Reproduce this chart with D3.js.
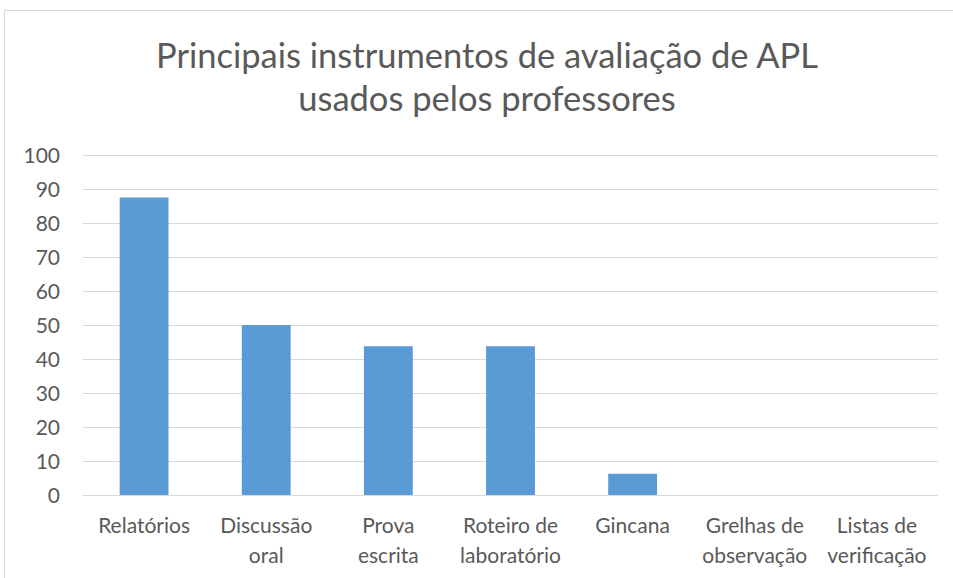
<!DOCTYPE html>
<html><head><meta charset="utf-8">
<script src="https://cdn.jsdelivr.net/npm/d3@7"></script>
<style>body{margin:0;background:#fff}svg{display:block}</style>
</head><body>
<svg id="c" width="953" height="578"></svg>
<script>
const categories = [["Relatórios"],["Discussão","oral"],["Prova","escrita"],["Roteiro de","laboratório"],["Gincana"],["Grelhas de","observação"],["Listas de","verificação"]];
const values = [87.5, 50, 43.75, 43.75, 6.25, 0, 0];
const yTicks = [0,10,20,30,40,50,60,70,80,90,100];
const titleLines = ["Principais instrumentos de avaliação de APL","usados pelos professores"];

const font = "Lato, 'Open Sans', sans-serif";
const svg = d3.select("#c");
svg.append("rect").attr("x",4.5).attr("y",10.5).attr("width",960).attr("height",600)
  .attr("fill","#fff").attr("stroke","#d9d9d9").attr("stroke-width",1);

const m = {l:83, r:938, t:155, b:495};
const x = d3.scaleBand().domain(d3.range(categories.length)).range([m.l,m.r]).paddingInner(0.6).paddingOuter(0.3);
const y = d3.scaleLinear().domain([0,100]).range([m.b,m.t]);

svg.append("g").selectAll("line").data(yTicks).join("line")
  .attr("x1",m.l).attr("x2",m.r).attr("y1",d=>Math.round(y(d))+0.5).attr("y2",d=>Math.round(y(d))+0.5)
  .attr("stroke","#d9d9d9").attr("stroke-width",1);

svg.append("g").selectAll("text").data(yTicks).join("text")
  .attr("x",60).attr("y",d=>y(d)).attr("dy","0.36em").attr("text-anchor","end")
  .attr("font-family",font).attr("font-size",21).attr("fill","#595959").text(d=>d);

svg.append("g").selectAll("rect").data(values).join("rect")
  .attr("x",(d,i)=>x(i)).attr("width",x.bandwidth())
  .attr("y",d=>y(d)).attr("height",d=>y(0)-y(d)).attr("fill","#5b9bd5");

const cl = svg.append("g").selectAll("text").data(categories).join("text")
  .attr("x",(d,i)=>x(i)+x.bandwidth()/2).attr("y",533).attr("text-anchor","middle")
  .attr("font-family",font).attr("font-size",21).attr("fill","#595959");
cl.selectAll("tspan").data(d=>d).join("tspan")
  .attr("x",function(){return this.parentNode.getAttribute("x");})
  .attr("dy",(d,i)=>i?30:0).text(d=>d);

svg.append("g").selectAll("text").data(titleLines).join("text")
  .attr("x",487).attr("y",(d,i)=>68+i*43).attr("text-anchor","middle")
  .attr("font-family",font).attr("font-size",34.5).attr("fill","#595959").text(d=>d);
</script>
</body></html>
